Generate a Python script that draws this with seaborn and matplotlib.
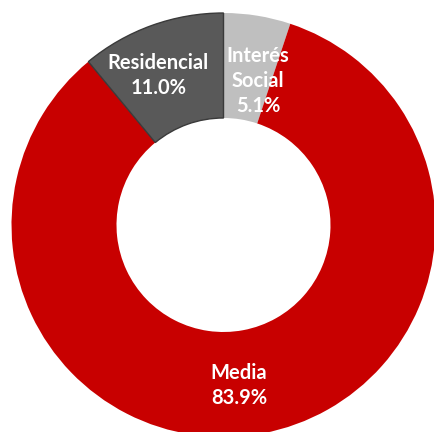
import matplotlib
matplotlib.use("Agg")
import matplotlib.pyplot as plt
import seaborn as sns
import numpy as np

categories = ["Interés\nSocial", "Media", "Residencial"]
values = [5.1, 83.9, 11.0]
colors = ["#BFBFBF", "#C80000", "#595959"]

sns.set_theme(style="white")
plt.rcParams['font.family'] = ['Lato', 'DejaVu Sans']

fig = plt.figure(figsize=(4.34, 4.32), dpi=100)
ax = fig.add_axes([0, 0, 1, 1])

R_px = 212.0
cx, cy = 223.5, 225.0
wedges, _ = ax.pie(values, colors=sns.color_palette(colors), startangle=90,
                   counterclock=False, radius=1.0,
                   wedgeprops=dict(width=105.0 / R_px, linewidth=0))
wedges[2].set_edgecolor("#3A3A3A")
wedges[2].set_linewidth(1.0)

# label nudges in pixels (layout only)
nudges = [(9, -14), (-14, -3), (-11, -1)]
label_r = 0.755
for w, cat, v, (dx, dy) in zip(wedges, categories, values, nudges):
    ang = np.deg2rad((w.theta1 + w.theta2) / 2)
    ax.annotate(f"{cat}\n{v:.1f}%",
                xy=(label_r * np.cos(ang), label_r * np.sin(ang)),
                xytext=(dx, dy), textcoords="offset pixels",
                ha="center", va="center", color="white", fontsize=14.5,
                fontweight="bold", linespacing=1.3)

ax.set_xlim(-cx / R_px, (434 - cx) / R_px)
ax.set_ylim(-(432 - cy) / R_px, cy / R_px)
ax.set_aspect("auto")
ax.axis("off")
fig.savefig("out.png", dpi=100, facecolor="white")
